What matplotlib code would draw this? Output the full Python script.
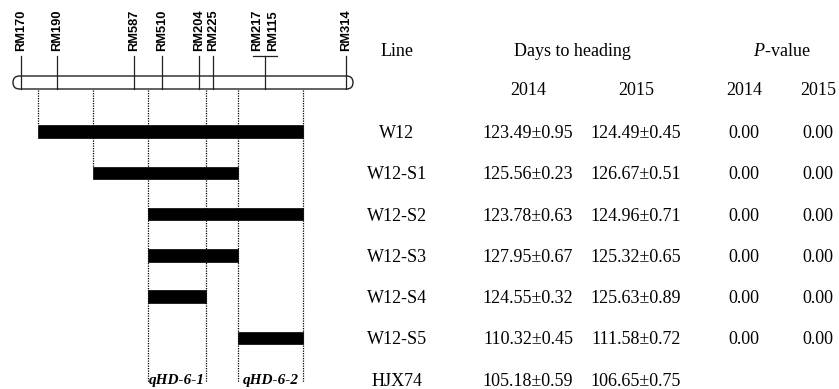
import matplotlib
matplotlib.use("Agg")
import matplotlib.pyplot as plt
from matplotlib.patches import FancyBboxPatch, Rectangle
from collections import OrderedDict

plt.rcParams["mathtext.fontset"] = "custom"
plt.rcParams["mathtext.rm"] = "Liberation Serif"
plt.rcParams["mathtext.it"] = "Liberation Serif:italic"

# ---- data ----
markers = ["RM170", "RM190", "RM587", "RM510", "RM204", "RM225", "RM217", "RM115", "RM314"]
marker_pos = [21, 57, 134, 162, 199, 213, 265, 265, 346]   # map position (pixel-like units)
breakpoints = [38, 93, 148, 206, 238, 303]
lines = ["W12", "W12-S1", "W12-S2", "W12-S3", "W12-S4", "W12-S5", "HJX74"]
seg_start = [38, 93, 148, 148, 148, 238]
seg_end = [303, 238, 303, 238, 206, 303]
dth_2014 = ["123.49±0.95", "125.56±0.23", "123.78±0.63", "127.95±0.67", "124.55±0.32", "110.32±0.45", "105.18±0.59"]
dth_2015 = ["124.49±0.45", "126.67±0.51", "124.96±0.71", "125.32±0.65", "125.63±0.89", "111.58±0.72", "106.65±0.75"]
p_2014 = ["0.00", "0.00", "0.00", "0.00", "0.00", "0.00", ""]
p_2015 = ["0.00", "0.00", "0.00", "0.00", "0.00", "0.00", ""]
qtl_names = ["qHD-6-1", "qHD-6-2"]
qtl_span = [(148, 206), (238, 303)]
# last row that each breakpoint line reaches (None -> bottom)
bp_stop_row = [0, 1, None, None, None, None]

W, H = 839, 389
fig = plt.figure(figsize=(W / 100, H / 100), dpi=100)
ax = fig.add_axes([0, 0, 1, 1])
ax.set_xlim(0, W)
ax.set_ylim(H, 0)
ax.axis("off")

serif = "Liberation Serif"
sans = "Liberation Sans"
fs = 13

row_y0, row_dy = 131.5, 41.3
row_y = [row_y0 + i * row_dy for i in range(len(lines))]
bar_h = 12.5

# chromosome
chr_top, chr_bot = 76, 89
chr_l, chr_r = 13, 353
ax.add_patch(FancyBboxPatch((chr_l, chr_top), chr_r - chr_l, chr_bot - chr_top,
                            boxstyle="round,pad=0,rounding_size=6.5",
                            fc="white", ec="#222222", lw=1.0, zorder=2))

# markers
tick_top = 56
groups = OrderedDict()
for name, p in zip(markers, marker_pos):
    groups.setdefault(p, []).append(name)
for p, names in groups.items():
    ax.plot([p, p], [tick_top, chr_bot], color="#222222", lw=0.9, zorder=3)
    n = len(names)
    if n == 1:
        offs = [0]
    else:
        offs = [(-8 + 16 * k / (n - 1)) for k in range(n)]
        ax.plot([p - 12, p + 12], [tick_top, tick_top], color="#222222", lw=0.9, zorder=3)
    for nm, o in zip(names, offs):
        ax.text(p + o, 51, nm, rotation=90, ha="center", va="bottom",
                fontsize=9.3, fontweight="bold", family=sans, color="black")

# breakpoint dotted lines
bottom_y = 382
for b, stop in zip(breakpoints, bp_stop_row):
    y_end = bottom_y if stop is None else row_y[stop] - bar_h / 2
    ax.plot([b, b], [chr_bot + 1, y_end], color="black", lw=0.9,
            linestyle=(0, (1, 1)), zorder=1)

# segments
for i, (s, e) in enumerate(zip(seg_start, seg_end)):
    ax.add_patch(Rectangle((s, row_y[i] - bar_h / 2), e - s, bar_h,
                           fc="black", ec="black", lw=0.5, zorder=4))

# QTL labels
for nm, (s, e) in zip(qtl_names, qtl_span):
    ax.text((s + e) / 2, row_y[-1] + 5, nm, ha="center", va="baseline",
            fontsize=11, fontweight="bold", fontstyle="italic", family=serif)

# table
col_line, col_d14, col_d15, col_p14, col_p15 = 397, 528, 636, 744, 818
hdr_base, yr_base = 56, 95
ax.text(col_line, hdr_base, "Line", ha="center", va="baseline", fontsize=fs, family=serif)
ax.text(572, hdr_base, "Days to heading", ha="center", va="baseline", fontsize=fs, family=serif)
ax.text(782, hdr_base, r"$P$-value", ha="center", va="baseline", fontsize=fs, family=serif)
for x, t in [(col_d14, "2014"), (col_d15, "2015"), (col_p14, "2014"), (col_p15, "2015")]:
    ax.text(x, yr_base, t, ha="center", va="baseline", fontsize=fs, family=serif)

for i, y in enumerate(row_y):
    b = y + 6.5
    ax.text(col_line, b, lines[i], ha="center", va="baseline", fontsize=fs, family=serif)
    ax.text(col_d14, b, dth_2014[i], ha="center", va="baseline", fontsize=fs, family=serif)
    ax.text(col_d15, b, dth_2015[i], ha="center", va="baseline", fontsize=fs, family=serif)
    if p_2014[i]:
        ax.text(col_p14, b, p_2014[i], ha="center", va="baseline", fontsize=fs, family=serif)
    if p_2015[i]:
        ax.text(col_p15, b, p_2015[i], ha="center", va="baseline", fontsize=fs, family=serif)

fig.savefig("out.png", dpi=100)
